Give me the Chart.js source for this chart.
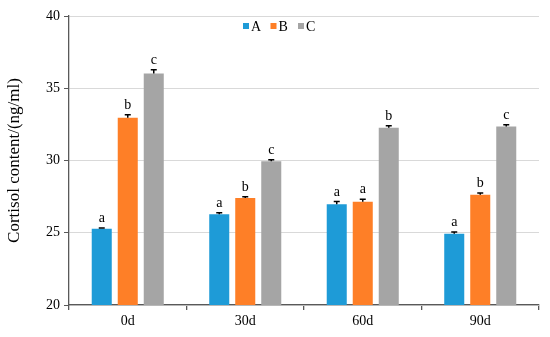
<!DOCTYPE html>
<html>
<head>
<meta charset="utf-8">
<script src="https://cdn.jsdelivr.net/npm/chart.js@4.4.0/dist/chart.umd.min.js"></script>
<style>
  html, body { margin: 0; padding: 0; background: #fff; }
  #wrap { width: 550px; height: 337px; }
</style>
</head>
<body>
<div id="wrap"><canvas id="chart"></canvas></div>
<script>
// data
const days = ["0d", "30d", "60d", "90d"];
const groupA = [25.28, 26.28, 26.98, 24.93];
const groupB = [32.95, 27.4, 27.15, 27.63];
const groupC = [36.02, 29.95, 32.27, 32.35];
const errA = [0.05, 0.1, 0.18, 0.12];
const errB = [0.22, 0.1, 0.16, 0.12];
const errC = [0.26, 0.1, 0.14, 0.12];
const lettersA = ["a", "a", "a", "a"];
const lettersB = ["b", "b", "a", "b"];
const lettersC = ["c", "c", "b", "c"];

const serif = "'Liberation Serif', 'Times New Roman', serif";

// error bars, significance letters and the legend inside the plot
const extras = {
    id: "extras",
    afterDatasetsDraw(chart) {
        const ctx = chart.ctx;
        const y = chart.scales.y;
        ctx.save();
        chart.data.datasets.forEach((ds, i) => {
            const meta = chart.getDatasetMeta(i);
            meta.data.forEach((bar, j) => {
                const top = y.getPixelForValue(ds.data[j] + ds.err[j]);
                ctx.strokeStyle = "#000";
                ctx.lineWidth = 1.5;
                ctx.beginPath();
                ctx.moveTo(bar.x, bar.y);
                ctx.lineTo(bar.x, top);
                ctx.moveTo(bar.x - 3, top);
                ctx.lineTo(bar.x + 3, top);
                ctx.stroke();
                ctx.fillStyle = "#000";
                ctx.font = "14px " + serif;
                ctx.textAlign = "center";
                ctx.textBaseline = "alphabetic";
                ctx.fillText(ds.letters[j], bar.x, top - 6);
            });
        });
        // legend
        let lx = 243;
        const ly = 26;
        ctx.font = "14px " + serif;
        ctx.textAlign = "left";
        ctx.textBaseline = "middle";
        chart.data.datasets.forEach(ds => {
            ctx.fillStyle = ds.backgroundColor;
            ctx.fillRect(lx, ly - 3, 6, 6);
            ctx.fillStyle = "#000";
            ctx.fillText(ds.label, lx + 8, ly + 1);
            lx += 27.5;
        });
        ctx.restore();
    }
};

new Chart(document.getElementById("chart"), {
    type: "bar",
    data: {
        labels: days,
        datasets: [
            { label: "A", data: groupA, err: errA, letters: lettersA, backgroundColor: "#1E9BD7" },
            { label: "B", data: groupB, err: errB, letters: lettersB, backgroundColor: "#FE7F27" },
            { label: "C", data: groupC, err: errC, letters: lettersC, backgroundColor: "#A5A5A5" }
        ]
    },
    options: {
        responsive: true,
        maintainAspectRatio: false,
        animation: false,
        categoryPercentage: 0.664,
        barPercentage: 0.77,
        layout: { padding: { top: 16, right: 11, left: 0, bottom: 0 } },
        plugins: {
            legend: { display: false },
            tooltip: { enabled: false }
        },
        scales: {
            x: {
                grid: {
                    offset: true,
                    drawOnChartArea: false,
                    tickLength: 5,
                    tickColor: "#595959",
                    lineWidth: 1.3
                },
                border: { color: "#595959", width: 1.3 },
                ticks: { color: "#000", font: { family: serif, size: 14 }, padding: 3 },
                afterFit(scale) { scale.height = 32; }
            },
            y: {
                min: 20,
                max: 40,
                ticks: { stepSize: 5, color: "#000", font: { family: serif, size: 14 }, padding: 4 },
                grid: {
                    color: "#D9D9D9",
                    borderDash: [5, 4],
                    tickBorderDash: [],
                    tickColor: "#595959",
                    tickLength: 5
                },
                border: { color: "#595959", width: 1.3 },
                title: {
                    display: true,
                    text: "Cortisol content/(ng/ml)",
                    color: "#000",
                    font: { family: serif, size: 17 },
                    padding: { top: 4, bottom: 0 }
                },
                afterFit(scale) { scale.width = 69; }
            }
        }
    },
    plugins: [extras]
});
</script>
</body>
</html>
